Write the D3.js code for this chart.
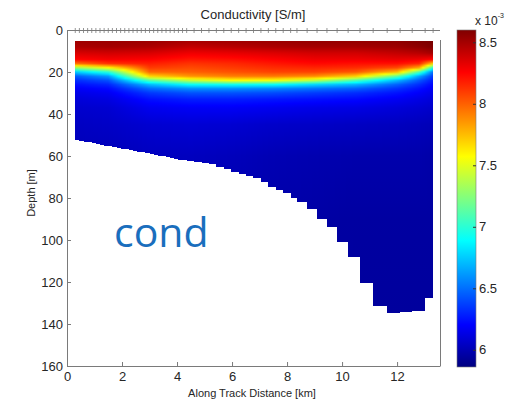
<!DOCTYPE html>
<html>
<head>
<meta charset="utf-8">
<script src="https://cdn.jsdelivr.net/npm/d3@7"></script>
<style>
  body { margin: 0; background: #fff; }
  svg { display: block; font-family: 'Liberation Sans', Arial, sans-serif; }
</style>
</head>
<body>
<div id="chart"></div>
<script>
// station positions along track [km] (top tick marks)
const stationKm = [
  0.30, 0.45, 0.60, 0.75, 0.90, 1.05, 1.20, 1.35, 1.50, 1.65, 1.80, 1.95, 2.10, 2.25,
  2.40, 2.55, 2.70, 2.85, 3.00, 3.15, 3.30, 3.45, 3.60, 3.75, 3.90, 4.05, 4.20, 4.35,
  4.62, 4.89, 5.16, 5.43, 5.70, 5.97, 6.24, 6.51, 6.78, 7.05, 7.32, 7.59, 7.86, 8.13,
  8.36, 8.73, 9.09, 9.45, 9.82, 10.22, 10.65, 11.13, 11.64, 12.11, 12.55, 13.02, 13.31
]
// deepest sample at each station [m]
const bottomDepth = [
  52.4, 52.8, 53.2, 53.5, 53.9, 54.3, 54.6, 55.0, 55.3, 55.7, 56.1, 56.5, 56.9, 57.2,
  57.6, 58.0, 58.3, 58.7, 59.1, 59.5, 59.8, 60.2, 60.6, 61.0, 61.3, 61.7, 62.0, 62.3,
  62.8, 63.4, 64.0, 65.0, 66.2, 67.4, 68.4, 69.3, 70.5, 72.6, 74.8, 76.2, 77.8, 80.0,
  82, 85, 90, 94, 101, 108, 120.5, 131.5, 134.7, 134.3, 133.6, 127.6, 127.6
]
// profile depth levels [m]
const levels = [5, 8, 11, 14, 16, 18, 20, 22, 24, 26, 28, 30, 33, 37, 45, 60, 90, 135]
// positions of the read profiles [km]
const keyKm = [0.3, 1.5, 3.0, 4.5, 6.0, 7.5, 9.0, 10.5, 12.0, 12.8, 13.3]
// conductivity x 1e-3 S/m at each level
const cond00 = [8.52, 8.48, 8.36, 8.25, 7.95, 7.30, 6.75, 6.45, 6.32, 6.24, 6.18, 6.14, 6.10, 6.07, 6.04, 6.01, 5.98, 5.96]
const cond01 = [8.53, 8.50, 8.38, 8.28, 8.12, 7.57, 7.00, 6.62, 6.42, 6.30, 6.22, 6.17, 6.12, 6.08, 6.05, 6.01, 5.98, 5.96]
const cond02 = [8.53, 8.48, 8.36, 8.26, 8.18, 8.10, 7.98, 7.68, 7.12, 6.70, 6.48, 6.35, 6.24, 6.16, 6.08, 6.03, 5.99, 5.96]
const cond03 = [8.50, 8.42, 8.30, 8.20, 8.12, 8.06, 8.00, 7.86, 7.42, 6.90, 6.58, 6.42, 6.28, 6.18, 6.09, 6.03, 5.99, 5.96]
const cond04 = [8.52, 8.45, 8.32, 8.22, 8.15, 8.10, 8.04, 7.92, 7.57, 6.92, 6.58, 6.42, 6.28, 6.18, 6.08, 6.02, 5.98, 5.95]
const cond05 = [8.53, 8.48, 8.35, 8.26, 8.20, 8.14, 8.08, 7.93, 7.55, 6.90, 6.55, 6.40, 6.26, 6.16, 6.06, 6.00, 5.97, 5.95]
const cond06 = [8.55, 8.50, 8.38, 8.30, 8.24, 8.16, 8.08, 7.88, 7.40, 6.78, 6.50, 6.36, 6.24, 6.14, 6.05, 5.99, 5.96, 5.94]
const cond07 = [8.55, 8.50, 8.38, 8.30, 8.22, 8.14, 8.02, 7.70, 7.10, 6.68, 6.45, 6.32, 6.22, 6.13, 6.04, 5.98, 5.95, 5.94]
const cond08 = [8.56, 8.52, 8.42, 8.32, 8.22, 8.06, 7.75, 7.15, 6.70, 6.46, 6.33, 6.25, 6.17, 6.10, 6.03, 5.98, 5.95, 5.94]
const cond09 = [8.60, 8.56, 8.45, 8.30, 8.15, 7.80, 7.10, 6.65, 6.44, 6.32, 6.24, 6.19, 6.13, 6.08, 6.02, 5.98, 5.95, 5.94]
const cond10 = [8.62, 8.60, 8.50, 8.25, 7.70, 7.00, 6.52, 6.36, 6.27, 6.21, 6.17, 6.14, 6.10, 6.06, 6.01, 5.97, 5.95, 5.94]
const keyProfiles = [cond00, cond01, cond02, cond03, cond04, cond05, cond06, cond07, cond08, cond09, cond10]

const xTicks = [0, 2, 4, 6, 8, 10, 12]
const yTicks = [0, 20, 40, 60, 80, 100, 120, 140, 160]
const cTicks = [6, 6.5, 7, 7.5, 8, 8.5]
const cRange = [5.86, 8.6]

const width = 525, height = 404
const axisColor = '#7a7a7a', textColor = '#262626'

// matlab jet
const jet = t => {
  const c = v => Math.round(255 * Math.max(0, Math.min(1, v)))
  return `rgb(${c(1.5 - Math.abs(4 * t - 3))},${c(1.5 - Math.abs(4 * t - 2))},${c(1.5 - Math.abs(4 * t - 1))})`
}

const x = d3.scaleLinear().domain([0, 13.56]).range([67, 440])
const y = d3.scaleLinear().domain([0, 160]).range([30, 366])
const color = d3.scaleSequential(jet).domain(cRange)

const svg = d3.select('#chart').append('svg')
  .attr('width', width)
  .attr('height', height)
const defs = svg.append('defs')

const profileAt = km => levels.map((d, j) =>
  d3.scaleLinear().domain(keyKm).range(keyProfiles.map(p => p[j])).clamp(true)(km))

// one pixel wide columns, each shaded vertically
const p0 = Math.round(x(stationKm[0])), p1 = Math.round(x(stationKm[stationKm.length - 1]))
const strips = d3.range(p0, p1).map(p => {
  const km = x.invert(p + 0.5)
  const i = Math.min(stationKm.length - 2, Math.max(0, d3.bisectRight(stationKm, km) - 1))
  return {px: p, km: km, bottom: bottomDepth[i]}
})
const stopDepths = d3.range(5, 41).concat([45, 50, 60, 75, 90, 110, 135])

strips.forEach((s, i) => {
  const prof = d3.scaleLinear().domain(levels).range(profileAt(s.km)).clamp(true)
  defs.append('linearGradient')
    .attr('id', 'g' + i)
    .attr('gradientUnits', 'userSpaceOnUse')
    .attr('x1', 0).attr('x2', 0)
    .attr('y1', y(5)).attr('y2', y(135))
    .selectAll('stop').data(stopDepths).join('stop')
    .attr('offset', d => (d - 5) / 130)
    .attr('stop-color', d => color(prof(d)))
})

svg.append('g')
  .attr('shape-rendering', 'crispEdges')
  .selectAll('rect').data(strips).join('rect')
  .attr('x', d => d.px)
  .attr('width', 1)
  .attr('y', y(5))
  .attr('height', d => y(d.bottom) - y(5))
  .attr('fill', (d, i) => `url(#g${i})`)

// axes
const styleAxis = g => {
  g.selectAll('path, line').attr('stroke', axisColor)
  g.selectAll('text').attr('fill', textColor).style('font-size', '13px')
  g.attr('font-family', null)
}
svg.append('g')
  .attr('transform', `translate(0, ${y(160)})`)
  .call(d3.axisBottom(x).tickValues(xTicks).tickSizeInner(-4).tickSizeOuter(0).tickPadding(6))
  .call(styleAxis)
svg.append('g')
  .attr('transform', `translate(${x(0)}, 0)`)
  .call(d3.axisLeft(y).tickValues(yTicks).tickSizeInner(-4).tickSizeOuter(0).tickPadding(4))
  .call(styleAxis)

// top line with station marks, right border
svg.append('line')
  .attr('x1', x(0)).attr('x2', 440).attr('y1', y(0) + 0.5).attr('y2', y(0) + 0.5)
  .attr('stroke', axisColor)
svg.append('g').selectAll('line').data(stationKm).join('line')
  .attr('x1', d => x(d)).attr('x2', d => x(d))
  .attr('y1', y(0) - 2).attr('y2', y(0) + 3)
  .attr('stroke', axisColor).attr('stroke-width', 0.8)
svg.append('line')
  .attr('x1', 440.5).attr('x2', 440.5).attr('y1', 40).attr('y2', y(160))
  .attr('stroke', axisColor)

// labels
svg.append('text')
  .attr('x', 253).attr('y', 19)
  .attr('text-anchor', 'middle')
  .attr('fill', textColor)
  .style('font-size', '13px')
  .text('Conductivity [S/m]')
svg.append('text')
  .attr('x', 252).attr('y', 397)
  .attr('text-anchor', 'middle')
  .attr('fill', textColor)
  .style('font-size', '11px')
  .text('Along Track Distance [km]')
svg.append('text')
  .attr('transform', 'translate(35, 193) rotate(-90)')
  .attr('text-anchor', 'middle')
  .attr('fill', textColor)
  .style('font-size', '11px')
  .text('Depth [m]')

// colorbar
const cy = d3.scaleLinear().domain(cRange).range([367, 30])
const cbar = defs.append('linearGradient')
  .attr('id', 'cbar')
  .attr('x1', 0).attr('x2', 0).attr('y1', 1).attr('y2', 0)
cbar.selectAll('stop').data(d3.range(0, 65)).join('stop')
  .attr('offset', d => d / 64)
  .attr('stop-color', d => jet(d / 64))
svg.append('rect')
  .attr('x', 457).attr('y', cy(cRange[1]))
  .attr('width', 19).attr('height', cy(cRange[0]) - cy(cRange[1]))
  .attr('fill', 'url(#cbar)')
  .attr('stroke', axisColor).attr('stroke-width', 0.6)
svg.append('g')
  .attr('transform', 'translate(476, 0)')
  .call(d3.axisRight(cy).tickValues(cTicks).tickFormat(d3.format('~g')).tickSizeInner(-3).tickSizeOuter(0).tickPadding(3))
  .call(styleAxis)
  .call(g => g.select('.domain').remove())
  .call(g => g.selectAll('.tick line').attr('stroke', '#333'))

const exp = svg.append('text')
  .attr('x', 475).attr('y', 25)
  .attr('fill', textColor)
  .style('font-size', '12px')
exp.append('tspan').text('x 10')
exp.append('tspan').attr('dy', -7).style('font-size', '7px').text('-3')

// slide overlay label
svg.append('text')
  .attr('x', 114).attr('y', 247)
  .attr('fill', '#1a6ebd')
  .style('font-family', "'Open Sans', sans-serif")
  .style('font-size', '41px')
  .text('cond')
</script>
</body>
</html>
